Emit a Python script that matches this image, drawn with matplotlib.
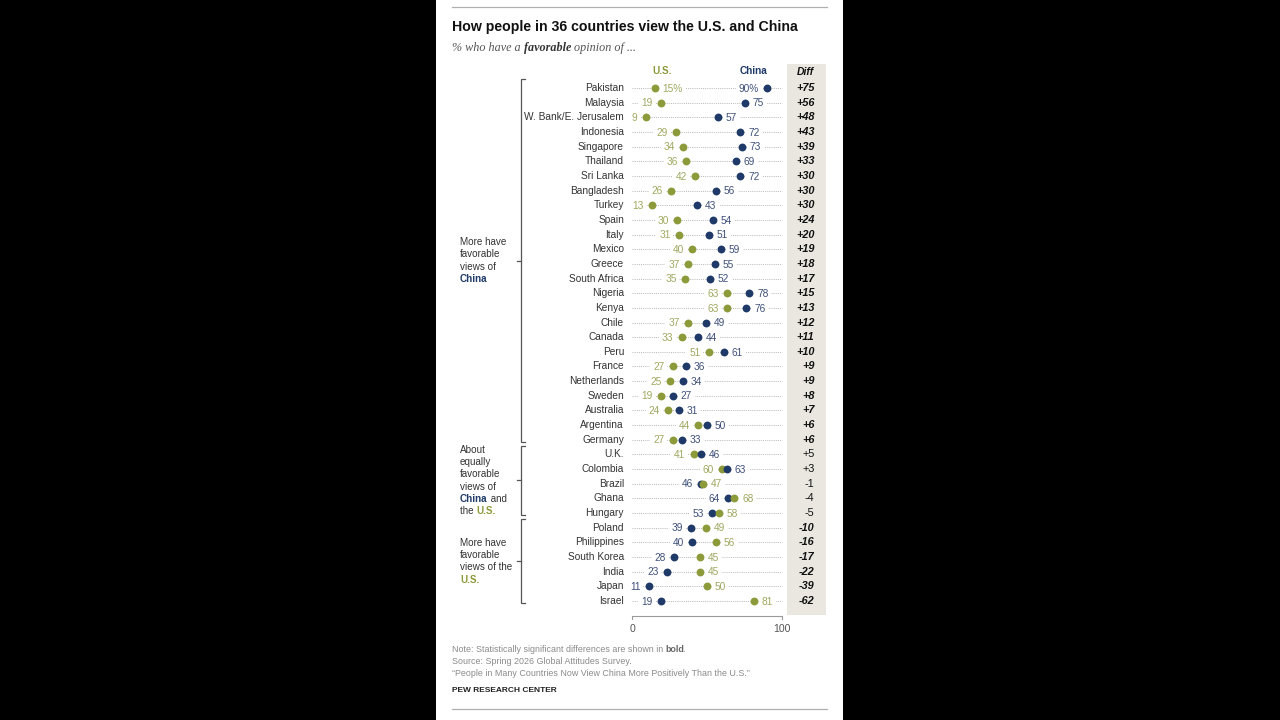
import matplotlib.pyplot as plt
import matplotlib.patches as mpatches

plt.rcParams['font.family'] = ['Liberation Sans', 'DejaVu Sans']

countries = ['Pakistan', 'Malaysia', 'W. Bank/E. Jerusalem', 'Indonesia', 'Singapore',
             'Thailand', 'Sri Lanka', 'Bangladesh', 'Turkey', 'Spain', 'Italy', 'Mexico',
             'Greece', 'South Africa', 'Nigeria', 'Kenya', 'Chile', 'Canada', 'Peru',
             'France', 'Netherlands', 'Sweden', 'Australia', 'Argentina', 'Germany',
             'U.K.', 'Colombia', 'Brazil', 'Ghana', 'Hungary', 'Poland', 'Philippines',
             'South Korea', 'India', 'Japan', 'Israel']
us = [15, 19, 9, 29, 34, 36, 42, 26, 13, 30, 31, 40, 37, 35, 63, 63, 37, 33, 51,
      27, 25, 19, 24, 44, 27, 41, 60, 47, 68, 58, 49, 56, 45, 45, 50, 81]
china = [90, 75, 57, 72, 73, 69, 72, 56, 43, 54, 51, 59, 55, 52, 78, 76, 49, 44, 61,
         36, 34, 27, 31, 50, 33, 46, 63, 46, 64, 53, 39, 40, 28, 23, 11, 19]
diff = ['+75', '+56', '+48', '+43', '+39', '+33', '+30', '+30', '+30', '+24', '+20',
        '+19', '+18', '+17', '+15', '+13', '+12', '+11', '+10', '+9', '+9', '+8', '+7',
        '+6', '+6', '+5', '+3', '-1', '-4', '-5', '-10', '-16', '-17', '-22', '-39', '-62']
not_significant = ['U.K.', 'Colombia', 'Brazil', 'Ghana', 'Hungary']

# groups: (first row, last row, label lines)
groups = [
    (0, 24, [[('More have', None)], [('favorable', None)], [('views of', None)],
             [('China', 'china')]]),
    (25, 29, [[('About', None)], [('equally', None)], [('favorable', None)],
              [('views of', None)], [('China', 'china'), (' and', None)],
              [('the ', None), ('U.S.', 'us')]]),
    (30, 35, [[('More have', None)], [('favorable', None)], [('views of the', None)],
              [('U.S.', 'us')]]),
]

US_C = '#8c9a3a'
US_T = '#a0a860'
CN_C = '#1f3a68'
CN_T = '#3e5079'
TXT = '#333333'

W, H = 1280, 720
fig = plt.figure(figsize=(12.8, 7.2), dpi=100, facecolor='black')

x0, x1 = 436, 843
# white panel
fig.add_artist(mpatches.Rectangle((x0 / W, 0), (x1 - x0) / W, 1, transform=fig.transFigure,
                                  facecolor='white', edgecolor='none', zorder=0))

# axes over the panel; x data 0..100 -> px 632..782, rows 14.657 px apart
ax = fig.add_axes([x0 / W, 0, (x1 - x0) / W, 1])
ax.set_xlim((x0 - 632) / 1.5, (x1 - 632) / 1.5)
rs = 14.657
ax.set_ylim((720 - 88) / rs, (0 - 88) / rs)
ax.axis('off')

def fx(px):
    return px / W

def fy(py):
    return 1 - py / H

# header / footer rules
fig.add_artist(plt.Line2D([fx(452), fx(827)], [fy(7), fy(7)], color='#b0b0b0', lw=0.9))
fig.add_artist(plt.Line2D([fx(452), fx(827)], [fy(709), fy(709)], color='#b0b0b0', lw=0.9))

fig.text(fx(452), fy(27), 'How people in 36 countries view the U.S. and China',
         fontsize=10.2, fontweight='bold', color='#111111', va='center', ha='left')
t1 = fig.text(fx(452), fy(48), '% who have a ', fontsize=8.7, style='italic',
              family=['Liberation Serif'], color='#555555', va='center')
t2 = ax.annotate('favorable', xy=(1, 0), xycoords=t1, va='bottom', fontsize=8.7,
                 style='italic', fontweight='bold', family=['Liberation Serif'], color='#333333')
ax.annotate(' opinion of ...', xy=(1, 0), xycoords=t2, va='bottom', fontsize=8.7,
            style='italic', family=['Liberation Serif'], color='#555555')

# Diff column background
ax.add_patch(mpatches.Rectangle((103.3, -1.64), 26.0, 37.6, facecolor='#e9e7e0',
                                edgecolor='none', zorder=0))
ax.text(121.6, -1.09, 'Diff', ha='right', va='center', fontsize=7.5, fontweight='bold',
        style='italic', color='#111111')
ax.text(20, -1.16, 'U.S.', ha='center', va='center', fontsize=7.2, fontweight='bold', color=US_C)
ax.text(81.3, -1.16, 'China', ha='center', va='center', fontsize=7.2, fontweight='bold', color=CN_C)

for i, name in enumerate(countries):
    u, c = us[i], china[i]
    ax.plot([0, 100], [i, i], ls=(0, (1, 1.2)), color='#b8b8b8', lw=0.7, zorder=1)
    ax.text(-5.3, i, name, ha='right', va='center', fontsize=7.3, color=TXT)
    ax.scatter([u], [i], s=32, color=US_C, zorder=4 if u > c else 3, linewidths=0)
    ax.scatter([c], [i], s=32, color=CN_C, zorder=4 if c > u else 3, linewidths=0)
    suffix = '%' if i == 0 else ''
    for v, other, col in ((u, c, US_T), (c, u, CN_T)):
        side = -1 if v < other else 1
        if i == 0:
            side = -side
        ax.annotate(f'{v}{suffix}', xy=(v, i), xytext=(side * 5.8, -0.5),
                    textcoords='offset points', ha='left' if side > 0 else 'right',
                    va='center', fontsize=7.3, color=col, zorder=2,
                    bbox=dict(boxstyle='square,pad=0.3', fc='white', ec='none'))
    bold = name not in not_significant
    ax.text(121.6, i, diff[i], ha='right', va='center', fontsize=7.8,
            fontweight='bold' if bold else 'normal', style='italic' if bold else 'normal',
            color='#111111')

# brackets and group labels
bx = (521 - 632) / 1.5
for first, last, lines in groups:
    top, bot = first - 0.6, last + 0.15
    mid = (top + bot) / 2
    ax.plot([bx + 2.7, bx, bx, bx + 2.7], [top, top, bot, bot], color='#555555', lw=0.9,
            solid_joinstyle='miter')
    ax.plot([bx, bx - 2.7], [mid, mid], color='#555555', lw=0.9)
    n = len(lines)
    lsp = 0.84
    for k, parts in enumerate(lines):
        y = mid + (k - (n - 1) / 2) * lsp
        prev = None
        for txt, kind in parts:
            col = {'china': CN_C, 'us': US_C}.get(kind, TXT)
            fw = 'bold' if kind else 'normal'
            if prev is None:
                prev = ax.text((460 - 632) / 1.5, y, txt, ha='left', va='center',
                               fontsize=7.1, color=col, fontweight=fw)
            else:
                prev = ax.annotate(txt, xy=(1, 0), xycoords=prev, va='bottom',
                                   fontsize=7.1, color=col, fontweight=fw)

# x axis
ax.plot([0, 0, 100, 100], [36.25, 36.02, 36.02, 36.25], color='#999999', lw=0.8)
for v in (0, 100):
    ax.text(v, 36.9, str(v), ha='center', va='center', fontsize=7.6, color='#555555')

# footer
GR = '#8a8a8a'
n1 = fig.text(fx(452), fy(649), 'Note: Statistically significant differences are shown in ',
              fontsize=6.4, color=GR, va='center')
n2 = ax.annotate('bold', xy=(1, 0), xycoords=n1, va='bottom', fontsize=6.4,
                 fontweight='bold', color='#666666')
ax.annotate('.', xy=(1, 0), xycoords=n2, xytext=(-1.8, 0), textcoords='offset points',
            va='bottom', fontsize=6.4, color=GR)
fig.text(fx(452), fy(661), 'Source: Spring 2026 Global Attitudes Survey.', fontsize=6.4,
         color=GR, va='center')
fig.text(fx(452), fy(673), '\u201cPeople in Many Countries Now View China More Positively Than the U.S.\u201d',
         fontsize=6.4, color=GR, va='center')
fig.text(fx(452), fy(690), 'PEW RESEARCH CENTER', fontsize=6, fontweight='bold',
         color='#222222', va='center')

fig.savefig('out.png', dpi=100, facecolor='black')
